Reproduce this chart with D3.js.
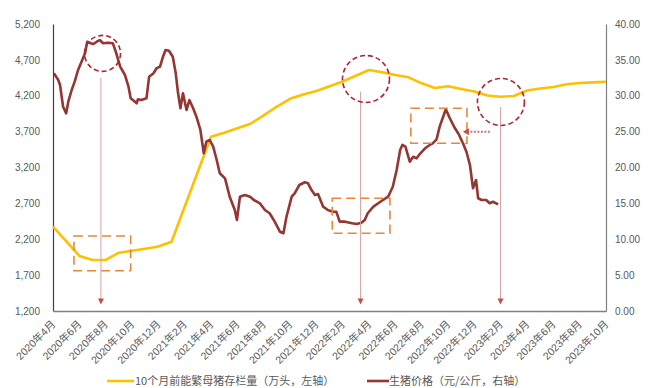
<!DOCTYPE html>
<html><head><meta charset="utf-8">
<script src="https://cdn.jsdelivr.net/npm/d3@7"></script>
<style>
html,body{margin:0;padding:0;background:#fff;}
svg{display:block;}
.tick text{font-family:"Liberation Sans",Arial,sans-serif;font-size:10px;fill:#595959;}
</style></head>
<body><svg id="chart" width="655" height="388"></svg>
<script>
// ---- Data ----
const months = ["2020-04","2020-05","2020-06","2020-07","2020-08","2020-09","2020-10","2020-11","2020-12",
"2021-01","2021-02","2021-03","2021-04","2021-05","2021-06","2021-07","2021-08","2021-09","2021-10","2021-11","2021-12",
"2022-01","2022-02","2022-03","2022-04","2022-05","2022-06","2022-07","2022-08","2022-09","2022-10","2022-11","2022-12",
"2023-01","2023-02","2023-03","2023-04","2023-05","2023-06","2023-07","2023-08","2023-09","2023-10"];
const tickLabels = ["2020年4月","2020年6月","2020年8月","2020年10月","2020年12月","2021年2月","2021年4月","2021年6月",
"2021年8月","2021年10月","2021年12月","2022年2月","2022年4月","2022年6月","2022年8月","2022年10月","2022年12月",
"2023年2月","2023年4月","2023年6月","2023年8月","2023年10月"];
// 10个月前能繁母猪存栏量（万头，左轴）
const sowValues = [2375,2175,1967,1911,1911,2013,2040,2068,2099,
2166,2654,3141,3629,3685,3748,3810,3927,4050,4157,4217,4266,
4333,4399,4478,4559,4528,4489,4457,4373,4308,4333,4294,4259,
4203,4187,4196,4273,4301,4322,4360,4378,4387,4396];
// 生猪价格（元/公斤，右轴）
const priceDates = ["2020-04-03","2020-04-13","2020-04-17","2020-04-24","2020-05-01","2020-05-06","2020-05-14","2020-05-21","2020-05-29",
"2020-06-06","2020-06-14","2020-06-19","2020-06-27","2020-07-03","2020-07-11","2020-07-18","2020-07-26","2020-08-07","2020-08-18","2020-08-26",
"2020-09-04","2020-09-15","2020-09-23","2020-09-28","2020-10-08","2020-10-12","2020-10-15","2020-10-23","2020-11-04","2020-11-10","2020-11-20","2020-11-27",
"2020-12-05","2020-12-12","2020-12-18","2020-12-26","2021-01-04","2021-01-11","2021-01-16","2021-01-22","2021-01-28",
"2021-02-05","2021-02-11","2021-02-19","2021-02-26","2021-03-07","2021-03-15","2021-03-21","2021-03-29",
"2021-04-06","2021-04-14","2021-04-21","2021-05-03","2021-05-14","2021-05-26","2021-05-31",
"2021-06-07","2021-06-18","2021-06-30","2021-07-09","2021-07-23","2021-08-04","2021-08-15","2021-08-27",
"2021-09-08","2021-09-16","2021-09-23","2021-10-05","2021-10-12","2021-10-23","2021-11-05","2021-11-12","2021-11-20","2021-11-28",
"2021-12-05","2021-12-17","2021-12-28","2022-01-09","2022-01-17","2022-01-25","2022-02-06","2022-02-21",
"2022-03-03","2022-03-14","2022-03-22","2022-03-29","2022-04-11","2022-04-22","2022-05-03","2022-05-15","2022-05-26",
"2022-06-04","2022-06-12","2022-06-17","2022-06-24","2022-07-04","2022-07-12","2022-07-20","2022-07-29",
"2022-08-09","2022-08-20","2022-08-27","2022-09-05","2022-09-12","2022-09-20","2022-09-26",
"2022-10-05","2022-10-17","2022-10-26","2022-11-05","2022-11-13","2022-11-21","2022-11-28",
"2022-12-05","2022-12-10","2022-12-18","2022-12-29","2023-01-06","2023-01-14","2023-01-26"];
const priceValues = [33.13,32.2,31.5,28.47,27.55,29.17,30.8,31.96,33.59,
34.75,35.92,37.53,37.31,37.21,37.53,37.77,37.31,37.39,37.31,35.92,
34.05,32.89,31.26,29.64,29.17,28.95,29.51,29.41,29.64,32.66,33.13,33.83,
34.05,35.44,36.38,36.28,35.44,33.13,30.56,28.25,30.34,
28.01,29.41,28.25,27.08,25.23,21.98,23.6,23.83,
22.9,21.05,19.19,18.49,15.93,14.08,12.68,
15.93,16.17,15.93,15.47,15.01,14.08,13.62,12.45,
11.05,10.83,13.14,15.93,16.4,17.56,17.94,17.8,16.86,16.17,
16.31,14.54,14.08,13.84,13.84,12.45,12.45,12.22,
12.13,12.31,12.68,13.62,14.54,15.01,15.47,15.93,17.32,
19.65,22.44,23.14,22.9,20.81,21.5,21.28,21.98,
22.68,23.14,23.37,23.93,25.69,27.08,28.11,
26.9,25.5,24.67,23.37,22.2,20.35,17.1,
18.26,15.71,15.47,15.47,15.01,15.23,14.87];

// annotations (month index / axis values)
const circles = [{m:3.76, axis:"R", v:35.9, r:18},{m:23.77, axis:"L", v:4433, r:23.5},{m:34.02, axis:"L", v:4113, r:23.5}];
const arrowsDown = [{m:3.64, top:32.5},{m:23.36, top:30.56},{m:33.99, top:28.43}];
const boxes = [{m0:1.59,m1:5.90,v0:5.62,v1:10.45},{m0:21.21,m1:25.59,v0:10.83,v1:15.71},{m0:27.18,m1:31.44,v0:23.37,v1:28.25}];
const dottedArrow = {m0:33.18, m1:31.13, v:24.99};

// ---- Chart ----
const svg = d3.select("#chart");
const L=53, R=606, T=24, B=311;
const x = d3.scaleLinear().domain([0, months.length-1]).range([L, R]);
const yL = d3.scaleLinear().domain([1200,5200]).range([B, T]);
const yR = d3.scaleLinear().domain([0,40]).range([B, T]);

function monthPos(s){
  const [yy,mm,dd] = s.split("-").map(Number);
  const dim = new Date(yy, mm, 0).getDate();
  return (yy-2020)*12 + (mm-4) + (dd-1)/dim;
}

// axes
const gl = svg.append("g").attr("transform",`translate(${L},0)`)
  .call(d3.axisLeft(yL).tickValues(d3.range(1200,5201,500)).tickFormat(d3.format(",")).tickSize(0).tickPadding(13));
gl.select(".domain").attr("stroke","#404040").attr("stroke-width",1.2);
const gr = svg.append("g").attr("transform",`translate(${R},0)`)
  .call(d3.axisRight(yR).tickValues(d3.range(0,40.1,5)).tickFormat(d3.format(".2f")).tickSize(0).tickPadding(9));
gr.select(".domain").attr("stroke","#808080").attr("stroke-width",1.2);
const gb = svg.append("g").attr("transform",`translate(0,${B})`)
  .call(d3.axisBottom(x).tickValues(d3.range(0, months.length, 2)).tickFormat((d,i)=>tickLabels[i]).tickSize(0));
gb.select(".domain").attr("stroke","#808080").attr("stroke-width",1.5);
gb.selectAll("text").attr("text-anchor","end").attr("x",-8).attr("y",8).attr("dy","0.35em")
  .attr("transform","rotate(-45)").style("font-family","'Liberation Sans','Noto Sans CJK SC',sans-serif").style("font-size","10.5px");

// lines
const sowLine = d3.line().x((d,i)=>x(i)).y(d=>yL(d));
svg.append("path").datum(sowValues).attr("d",sowLine).attr("fill","none")
  .attr("stroke","#FFC000").attr("stroke-width",2.6).attr("stroke-linejoin","round");
const pricePts = priceDates.map((d,i)=>({m:monthPos(d), v:priceValues[i]}));
svg.append("path").datum(pricePts).attr("d",d3.line().x(d=>x(d.m)).y(d=>yR(d.v)))
  .attr("fill","none").attr("stroke","#943634").attr("stroke-width",2.6).attr("stroke-linejoin","round");

// annotations
const ann = svg.append("g");
arrowsDown.forEach(a=>{
  const cx = x(a.m), y1 = yR(a.top), y2 = yR(0.9);
  ann.append("line").attr("x1",cx).attr("x2",cx).attr("y1",y1).attr("y2",y2-4)
    .attr("stroke","#D9A3A3").attr("stroke-width",1);
  ann.append("path").attr("d",`M${cx-3},${y2-6}L${cx+3},${y2-6}L${cx},${y2}Z`).attr("fill","#C0504D");
});
circles.forEach(c=>{
  const cy = c.axis==="L" ? yL(c.v) : yR(c.v);
  ann.append("circle").attr("cx",x(c.m)).attr("cy",cy).attr("r",c.r)
    .attr("fill","none").attr("stroke","#B22234").attr("stroke-width",1.6).attr("stroke-dasharray","5,3");
});
boxes.forEach(b=>{
  ann.append("rect").attr("x",x(b.m0)).attr("y",yR(b.v1)).attr("width",x(b.m1)-x(b.m0)).attr("height",yR(b.v0)-yR(b.v1))
    .attr("fill","none").attr("stroke","#E8873A").attr("stroke-width",1.6).attr("stroke-dasharray","9,5");
});
{
  const xa = x(dottedArrow.m0), xb = x(dottedArrow.m1), yy = yR(dottedArrow.v);
  ann.append("line").attr("x1",xa).attr("x2",xb+5).attr("y1",yy).attr("y2",yy)
    .attr("stroke","#C9797B").attr("stroke-width",2).attr("stroke-dasharray","2,1.5");
  ann.append("path").attr("d",`M${xb},${yy}L${xb+6},${yy-3.5}L${xb+6},${yy+3.5}Z`).attr("fill","#C0504D");
}

// legend
const lg = svg.append("g").style("font-family","'Noto Sans CJK SC',sans-serif").style("font-size","11px").attr("fill","#595959");
lg.append("line").attr("x1",107).attr("x2",134).attr("y1",381).attr("y2",381).attr("stroke","#FFC000").attr("stroke-width",2.6);
lg.append("text").attr("x",135).attr("y",385).text("10个月前能繁母猪存栏量（万头，左轴）");
lg.append("line").attr("x1",367).attr("x2",389).attr("y1",381).attr("y2",381).attr("stroke","#943634").attr("stroke-width",2.6);
lg.append("text").attr("x",389).attr("y",385).text("生猪价格（元/公斤，右轴）");
</script></body></html>
